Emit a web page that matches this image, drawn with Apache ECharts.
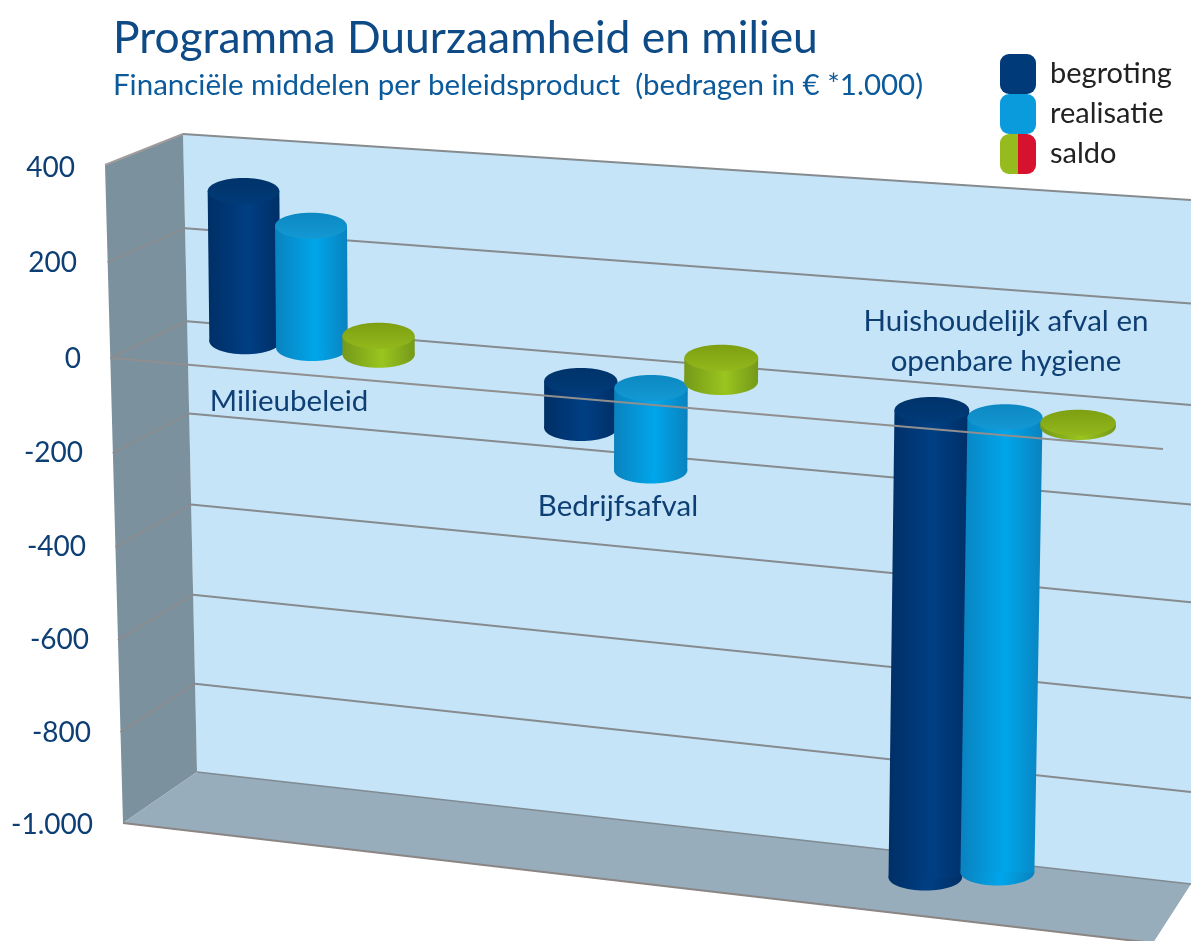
<!doctype html>
<html>
<head>
<meta charset="utf-8">
<script src="https://cdn.jsdelivr.net/npm/echarts@6/dist/echarts.min.js"></script>
<style>
html,body{margin:0;padding:0;background:#fff;}
#chart{width:1191px;height:941px;}
</style>
</head>
<body>
<div id="chart"></div>
<script>
// data
var categories = ['Milieubeleid', 'Bedrijfsafval', 'Huishoudelijk afval en\nopenbare hygiene'];
var begroting = [329, -100, -962];
var realisatie = [266, -174, -931];
var saldoTop = [41, 78, 4];
var saldoBottom = [0, 27, -5];
var tickValues = [400, 200, 0, -200, -400, -600, -800, -1000];
var tickLabels = ['400', '200', '0', '-200', '-400', '-600', '-800', '-1.000'];

var navy = '#0d3f75';

// tick labels follow the slanted front edge: [push down, push left] for each tick
var tickShift = [[3, 18], [4, 16], [6, 12], [6, 10], [6, 7], [5, 4], [4, 2], [2, 0]];

// pseudo 3D view: wall corners as a function of the front edge y from the value axis
var Y_TOP = 165, Y_SPAN = 658;
function bulge(y) { return 5.66e-5 * (y - Y_TOP) * (Y_TOP + Y_SPAN - y); }
function frontLeft(y) { return [105 + (y - Y_TOP) * 18 / Y_SPAN, y + bulge(y)]; }
function backLeft(y) { return [183 + (y - Y_TOP) * 14 / Y_SPAN, 134 + (y - Y_TOP) * 638 / Y_SPAN + bulge(y)]; }
function backRight(y) { return [1191, 200 + (y - Y_TOP) * 684 / Y_SPAN + 1.9 * bulge(y)]; }

// the clusters do not sit quite on the band centres
var clusterNudge = [[0, 0], [-6, 6], [2, 0]];
var labelOffset = [[-22, 48], [-39, 153], [3, -12]];

function hGrad(edge, mid) {
	return new echarts.graphic.LinearGradient(0, 0, 1, 0, [
		{offset: 0, color: edge},
		{offset: 0.55, color: mid},
		{offset: 1, color: edge}
	]);
}

// one cylinder per value, the y scale grows a bit to the right
function cylinder(slot, side, sideMid, capTop, capLow) {
	return function (params, api) {
		var i = api.value(0);
		var nudge = clusterNudge[i];
		var band = api.coord([i, 0]);
		var cx0 = band[0] + nudge[0];
		var spread = 1 + 0.00012 * (cx0 - 311);
		var cx = cx0 + slot * 67.5 * spread;
		var hw = (72 + 0.0045 * (cx - 311)) / 2;
		var base = 348 + 0.1 * (cx - 311.5) + nudge[1];
		var zero = api.coord([i, 0])[1];
		var scale = 0.95 + 0.00009 * cx;
		var hi = base + (api.coord([i, api.value(1)])[1] - zero) * scale;
		var lowVal = api.value(2);
		var lo = base + (api.coord([i, isNaN(lowVal) ? 0 : lowVal])[1] - zero) * scale;
		var y1 = Math.min(hi, lo), y2 = Math.max(hi, lo);
		// bars lean slightly towards a point under the chart
		function lean(y) { return 1 - 3.5e-5 * (y - y1); }
		function xAt(y) { return 530 + (cx - 530) * lean(y); }
		var botX = xAt(y2), botW = hw * lean(y2);
		var ry = 13;
		return {
			type: 'group',
			children: [
				{type: 'ellipse', shape: {cx: botX, cy: y2, rx: botW, ry: ry}, style: {fill: hGrad(side, sideMid)}},
				{type: 'polygon', shape: {points: [[cx - hw, y1], [cx + hw, y1], [botX + botW, y2], [botX - botW, y2]]}, style: {fill: hGrad(side, sideMid)}},
				{type: 'ellipse', shape: {cx: cx, cy: y1, rx: hw, ry: ry}, style: {
					fill: new echarts.graphic.LinearGradient(0, 0, 0, 1, [
						{offset: 0, color: capTop},
						{offset: 1, color: capLow}
					])
				}}
			]
		};
	};
}

function walls(params, api) {
	var top = api.coord([0, 400])[1], bottom = api.coord([0, -1000])[1];
	var fl = frontLeft(top), fb = frontLeft(bottom);
	var bl = backLeft(top), bb = backLeft(bottom);
	var br = backRight(top), rb = backRight(bottom);
	return {
		type: 'group',
		children: [
			{type: 'polygon', shape: {points: [bl, br, rb, bb]}, style: {fill: '#c6e4f7'}},
			{type: 'polygon', shape: {points: [fl, bl, bb, fb]}, style: {fill: '#7c919e'}},
			{type: 'polygon', shape: {points: [fb, bb, rb, [1153, 943]]}, style: {fill: '#97adbb'}},
			{type: 'line', shape: {x1: fb[0], y1: fb[1], x2: 1153, y2: 943}, style: {stroke: '#8b8584', lineWidth: 2}},
			{type: 'line', shape: {x1: bb[0], y1: bb[1], x2: rb[0], y2: rb[1]}, style: {stroke: '#7f8a92', lineWidth: 1.5}},
			{type: 'line', shape: {x1: fl[0], y1: fl[1], x2: bl[0], y2: bl[1]}, style: {stroke: '#a09c9c', lineWidth: 2}},
			{type: 'line', shape: {x1: bl[0], y1: bl[1], x2: br[0], y2: br[1]}, style: {stroke: '#858b8f', lineWidth: 2}}
		]
	};
}

function gridRow(params, api) {
	var y = api.coord([0, api.value(0)])[1];
	var a = frontLeft(y), b = backLeft(y), c = backRight(y);
	return {
		type: 'group',
		children: [
			{type: 'line', shape: {x1: a[0], y1: a[1], x2: b[0], y2: b[1]}, style: {stroke: '#8d8a8c', lineWidth: 1.5}},
			{type: 'line', shape: {x1: b[0], y1: b[1], x2: c[0], y2: c[1]}, style: {stroke: '#858b8f', lineWidth: 2}}
		]
	};
}

// only the zero line is also drawn on the front plane
function zeroLine(params, api) {
	var y = api.coord([0, 0])[1];
	var a = frontLeft(y);
	return {
		type: 'line',
		shape: {x1: a[0], y1: a[1], x2: 1163, y2: a[1] + 0.0864 * (1163 - a[0])},
		style: {stroke: '#8f8f8f', lineWidth: 2}
	};
}

function catLabel(params, api) {
	var i = api.value(0);
	var p = api.coord([i, 0]);
	return {
		type: 'text',
		x: p[0] + labelOffset[i][0],
		y: p[1] + labelOffset[i][1],
		style: {
			text: categories[i],
			fill: navy,
			font: '29.5px Lato',
			align: 'center',
			verticalAlign: 'middle',
			lineHeight: 40
		}
	};
}

var rich = {};
tickShift.forEach(function (s, i) {
	rich['p' + i] = {fontFamily: 'Lato', fontSize: 28, color: navy, padding: [s[0] * 2, s[1], 0, 0]};
});

var myChart = echarts.init(document.getElementById('chart'));
var idx = categories.map(function (c, i) { return i; });

myChart.setOption({
	animation: false,
	backgroundColor: '#fff',
	title: {
		text: 'Programma Duurzaamheid en milieu',
		subtext: 'Financiële middelen per beleidsproduct  (bedragen in € *1.000)',
		left: 113,
		top: 17,
		padding: 0,
		itemGap: 9,
		textStyle: {fontFamily: 'Lato', fontWeight: 'normal', fontSize: 44.4, color: '#0d4a86'},
		subtextStyle: {fontFamily: 'Lato', fontSize: 29.5, color: '#0b5a9c'}
	},
	legend: {
		orient: 'vertical',
		left: 1000,
		top: 54,
		padding: 0,
		itemWidth: 36,
		itemHeight: 40,
		itemGap: 0,
		selectedMode: false,
		textStyle: {fontFamily: 'Lato', fontSize: 29, color: '#222', padding: [4, 0, 0, 9]},
		data: [
			{name: 'begroting', icon: 'roundRect', itemStyle: {color: '#003a78'}},
			{name: 'realisatie', icon: 'roundRect', itemStyle: {color: '#0a9bdc'}},
			{name: 'saldo', icon: 'roundRect', itemStyle: {
				color: new echarts.graphic.LinearGradient(0, 0, 1, 0, [
					{offset: 0, color: '#96bb1e'},
					{offset: 0.5, color: '#96bb1e'},
					{offset: 0.5, color: '#d7122f'},
					{offset: 1, color: '#d7122f'}
				])
			}}
		]
	},
	grid: {left: 138, top: Y_TOP, width: 1038, height: Y_SPAN},
	xAxis: {type: 'category', data: categories, show: false},
	yAxis: {
		type: 'value',
		min: -1000,
		max: 400,
		interval: 200,
		splitLine: {show: false},
		axisLine: {show: false},
		axisTick: {show: false},
		axisLabel: {
			margin: 45,
			rich: rich,
			formatter: function (v) {
				var i = tickValues.indexOf(v);
				return '{p' + i + '|' + tickLabels[i] + '}';
			}
		}
	},
	series: [
		{name: 'walls', type: 'custom', z: 1, silent: true, renderItem: walls, data: [[0]], encode: {y: 0}},
		{name: 'rows', type: 'custom', z: 2, silent: true, renderItem: gridRow,
			data: tickValues.filter(function (v) { return v > -1000 && v < 400; }).map(function (v) { return [v]; }), encode: {y: 0}},
		{name: 'begroting', type: 'custom', z: 3, renderItem: cylinder(-1, '#002f66', '#003f84', '#00336a', '#003b78'),
			data: idx.map(function (i) { return [i, begroting[i], 0]; }), encode: {x: 0, y: 1}},
		{name: 'realisatie', type: 'custom', z: 3, renderItem: cylinder(0, '#0a82bf', '#00a6ea', '#0c88c2', '#1499d4'),
			data: idx.map(function (i) { return [i, realisatie[i], 0]; }), encode: {x: 0, y: 1}},
		{name: 'saldo', type: 'custom', z: 3, renderItem: cylinder(1, '#74991a', '#9ac51e', '#7d9f12', '#93b81c'),
			data: idx.map(function (i) { return [i, saldoTop[i], saldoBottom[i]]; }), encode: {x: 0, y: 1}},
		{name: 'zero', type: 'custom', z: 4, silent: true, renderItem: zeroLine, data: [[0]], encode: {y: 0}},
		{name: 'labels', type: 'custom', z: 5, silent: true, renderItem: catLabel, data: idx.map(function (i) { return [i]; }), encode: {x: 0}}
	]
});
</script>
</body>
</html>
